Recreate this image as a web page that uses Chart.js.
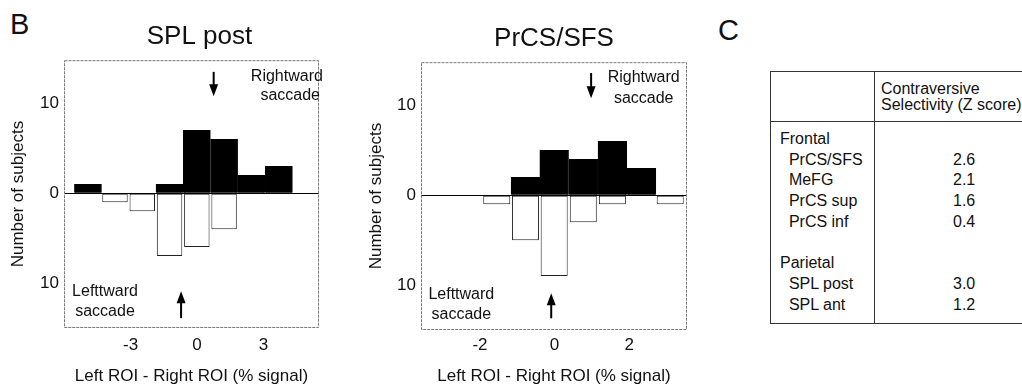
<!DOCTYPE html>
<html>
<head>
<meta charset="utf-8">
<script src="https://cdn.jsdelivr.net/npm/chart.js@4.4.1/dist/chart.umd.min.js"></script>
<style>
  body { margin:0; width:1022px; height:387px; overflow:hidden; position:relative; background:#fff;
         font-family:'Liberation Sans', Arial, sans-serif; color:#111; }
  canvas { position:absolute; top:0; }
  .panel-label { position:absolute; font-size:29px; line-height:29px; }
  #zTable { position:absolute; left:770px; top:71px; width:400px; table-layout:fixed;
            border-collapse:collapse; font-size:16px; }
  #zTable td { border:1px solid #333; padding:0; vertical-align:top; white-space:nowrap; overflow:hidden; }
  #zTable .head td { height:49px; vertical-align:middle; line-height:16px; }
  #zTable .body td { height:194px; padding-top:7px; line-height:20.7px; }
</style>
</head>
<body>
<div class="panel-label" style="left:10px;top:10px">B</div>
<canvas id="splChart" width="330" height="387" style="left:0"></canvas>
<canvas id="prcsChart" width="340" height="387" style="left:358px"></canvas>
<div class="panel-label" style="left:718px;top:16px">C</div>
<table id="zTable"><colgroup><col style="width:104px"><col style="width:296px"></colgroup><tbody id="zBody"></tbody></table>

<script>
// histogram bins (bin centres, % signal) and subject counts
const splBins = [-4.92, -3.7, -2.47, -1.24, -0.01, 1.22, 2.45, 3.69, 4.92];
const splRightward = [1, 0, 0, 1, 7, 6, 2, 3, 0];
const splLeftward = [0, 1, 2, 7, 6, 4, 0, 0, 0];
const splTicks = [-3, 0, 3];

const prcsBins = [-1.55, -0.78, -0.01, 0.77, 1.55, 2.33, 3.1];
const prcsRightward = [0, 2, 5, 4, 6, 3, 0];
const prcsLeftward = [1, 5, 9, 3, 1, 0, 1];
const prcsTicks = [-2, 0, 2];

const countTicks = [-10, 0, 10];

// panel C table
const frontalRegions = ['PrCS/SFS', 'MeFG', 'PrCS sup', 'PrCS inf'];
const frontalZ = [2.6, 2.1, 1.6, 0.4];
const parietalRegions = ['SPL post', 'SPL ant'];
const parietalZ = [3.0, 1.2];

Chart.defaults.font.family = "'Liberation Sans', Arial, sans-serif";
Chart.defaults.color = '#111';

/* frame, arrows and saccade labels, placed in data units */
const saccadeMarks = {
  id: 'saccadeMarks',
  afterLayout(chart, args, opts) {
    // title sits a little right of the plot centre in the original
    if (opts.titleShift && chart.titleBlock) {
      chart.titleBlock.left += opts.titleShift;
      chart.titleBlock.right += opts.titleShift;
    }
  },
  afterDatasetsDraw(chart, args, opts) {
    const { ctx, chartArea: a, scales: { x, y } } = chart;
    ctx.save();
    ctx.strokeStyle = '#777';
    ctx.lineWidth = 1;
    ctx.setLineDash([3, 1]);
    ctx.strokeRect(a.left + 0.5, a.top + 0.5, a.width - 1, a.height - 1);
    ctx.setLineDash([]);

    ctx.strokeStyle = '#000';
    ctx.fillStyle = '#000';
    (opts.arrows || []).forEach(ar => {
      const px = x.getPixelForValue(ar.x);
      const y0 = y.getPixelForValue(ar.from);
      const y1 = y.getPixelForValue(ar.to);
      const dir = Math.sign(y1 - y0);
      ctx.lineWidth = 2;
      ctx.beginPath(); ctx.moveTo(px, y0); ctx.lineTo(px, y1 - dir * 8); ctx.stroke();
      ctx.beginPath();
      ctx.moveTo(px, y1);
      ctx.lineTo(px - 4.5, y1 - dir * 12);
      ctx.lineTo(px + 4.5, y1 - dir * 12);
      ctx.closePath(); ctx.fill();
    });

    ctx.fillStyle = '#111';
    ctx.font = "16px 'Liberation Sans', Arial, sans-serif";
    ctx.textAlign = 'center';
    ctx.textBaseline = 'middle';
    (opts.labels || []).forEach(l => ctx.fillText(l.text, x.getPixelForValue(l.x), y.getPixelForValue(l.y)));
    ctx.restore();
  }
};

function histogram(id, title, bins, rightward, leftward, xTicks, lay, marks){
  return new Chart(document.getElementById(id), {
    type: 'bar',
    data: {
      datasets: [{
        label: 'Rightward saccade',
        data: bins.map((b, i) => ({ x: b, y: rightward[i] })),
        backgroundColor: '#000', borderColor: '#000', borderWidth: 1,
        grouped: false, barPercentage: 1, categoryPercentage: 1
      }, {
        label: 'Leftward saccade',
        data: bins.map((b, i) => ({ x: b, y: -leftward[i] })),
        backgroundColor: '#fff', borderColor: '#222', borderWidth: 1, borderSkipped: false,
        grouped: false, barPercentage: 0.94, categoryPercentage: 1
      }]
    },
    options: {
      responsive: false,
      animation: false,
      layout: { padding: { left: 0, right: 11, top: 0, bottom: 0 } },
      plugins: {
        legend: { display: false },
        tooltip: { enabled: false },
        title: { display: true, text: title, fullSize: false, color: '#111',
                 font: { size: 26, weight: 'normal' }, padding: { top: lay.titleTop, bottom: 8 } },
        saccadeMarks: marks
      },
      scales: {
        x: {
          type: 'linear', offset: false, min: lay.xMin, max: lay.xMax,
          afterBuildTicks: ax => { ax.ticks = xTicks.map(v => ({ value: v })); },
          afterFit: ax => { ax.height = lay.xHeight; },
          grid: { display: false, drawTicks: false }, border: { display: false },
          ticks: { font: { size: 17 }, color: '#111', padding: lay.xPad, maxRotation: 0 },
          title: { display: true, text: 'Left ROI - Right ROI (% signal)', color: '#111',
                   font: { size: 17 }, padding: { top: 0, bottom: 0 } }
        },
        y: {
          min: -15, max: 14.8,
          afterBuildTicks: ax => { ax.ticks = countTicks.map(v => ({ value: v })); },
          afterFit: ax => { ax.width = lay.yWidth; },
          grid: { drawTicks: false, lineWidth: 1,
                  color: c => (c.tick && c.tick.value === 0) ? '#000' : 'rgba(0,0,0,0)' },
          border: { display: false },
          ticks: { font: { size: 17 }, color: '#111', padding: 5, callback: v => Math.abs(v) },
          title: { display: true, text: 'Number of subjects', color: '#111',
                   font: { size: 17 }, padding: { top: 8, bottom: 0 } }
        }
      }
    },
    plugins: [saccadeMarks]
  });
}

histogram('splChart', 'SPL post', splBins, splRightward, splLeftward, splTicks,
  { xMin: -6, xMax: 5.5, titleTop: 21, xHeight: 59, xPad: 7, yWidth: 64 },
  {
    titleShift: 8,
    arrows: [{ x: 0.75, from: 13.5, to: 10.8 }, { x: -0.72, from: -13.9, to: -10.9 }],
    labels: [
      { x: 4.05, y: 12.95, text: 'Rightward' }, { x: 4.2, y: 10.85, text: 'saccade' },
      { x: -4.15, y: -10.95, text: 'Lefttward' }, { x: -4.15, y: -13.2, text: 'saccade' }
    ]
  });

histogram('prcsChart', 'PrCS/SFS', prcsBins, prcsRightward, prcsLeftward, prcsTicks,
  { xMin: -3.58, xMax: 3.55, titleTop: 23, xHeight: 57, xPad: 5, yWidth: 63 },
  {
    arrows: [{ x: 0.98, from: 13.6, to: 10.8 }, { x: -0.09, from: -13.7, to: -10.9 }],
    labels: [
      { x: 2.39, y: 13.1, text: 'Rightward' }, { x: 2.39, y: 10.8, text: 'saccade' },
      { x: -2.5, y: -11.1, text: 'Lefttward' }, { x: -2.5, y: -13.3, text: 'saccade' }
    ]
  });

// Panel C: contraversive selectivity table
(function buildTable(){
  const names = ['Frontal'], values = [''];
  frontalRegions.forEach((r, i) => { names.push('&nbsp;&nbsp;' + r); values.push(frontalZ[i].toFixed(1)); });
  names.push('&nbsp;', 'Parietal'); values.push('&nbsp;', '&nbsp;');
  parietalRegions.forEach((r, i) => { names.push('&nbsp;&nbsp;' + r); values.push(parietalZ[i].toFixed(1)); });

  document.getElementById('zBody').innerHTML =
    '<tr class="head"><td></td>' +
    '<td style="padding-left:6px">Contraversive<br>Selectivity (Z score)</td></tr>' +
    '<tr class="body"><td style="padding-left:9px">' + names.map(n => '<div>' + n + '</div>').join('') +
    '</td><td style="padding-left:78px">' + values.map(v => '<div>' + (v || '&nbsp;') + '</div>').join('') +
    '</td></tr>';
})();
</script>
</body>
</html>
